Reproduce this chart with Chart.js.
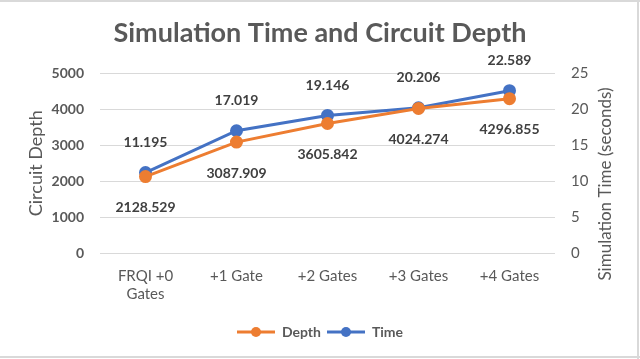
<!DOCTYPE html>
<html>
<head>
<meta charset="utf-8">
<script src="https://cdn.jsdelivr.net/npm/chart.js@4/dist/chart.umd.min.js"></script>
<style>
    html, body { margin: 0; padding: 0; background: #fff; }
    #wrap { width: 640px; height: 359px; }
</style>
</head>
<body>
<div id="wrap"><canvas id="chart" width="640" height="359"></canvas></div>
<script>
// ---- data ----
const categories = [['FRQI +0', 'Gates'], '+1 Gate', '+2 Gates', '+3 Gates', '+4 Gates'];
const depthValues = [2128.529, 3087.909, 3605.842, 4024.274, 4296.855];
const timeValues = [11.195, 17.019, 19.146, 20.206, 22.589];
const depthTicks = [0, 1000, 2000, 3000, 4000, 5000];
const timeTicks = [0, 5, 10, 15, 20, 25];

const ORANGE = '#ED7D31';
const BLUE = '#4472C4';
const TEXT = '#595959';
const FONT = 'Lato, "Open Sans", sans-serif';

// legend marker: short line with a dot in the middle
function legendMarker(color) {
    const c = document.createElement('canvas');
    c.width = 38;
    c.height = 12;
    const g = c.getContext('2d');
    g.strokeStyle = color;
    g.lineWidth = 3;
    g.beginPath();
    g.moveTo(0, 6);
    g.lineTo(38, 6);
    g.stroke();
    g.fillStyle = color;
    g.beginPath();
    g.arc(19, 6, 5, 0, Math.PI * 2);
    g.fill();
    return c;
}

// value labels: depth under its points, time above its points
const valueLabels = {
    id: 'valueLabels',
    afterDatasetsDraw(chart) {
        const ctx = chart.ctx;
        ctx.save();
        ctx.font = 'bold 14px ' + FONT;
        ctx.fillStyle = '#404040';
        ctx.textAlign = 'center';
        ctx.textBaseline = 'middle';
        chart.data.datasets.forEach((ds, i) => {
            const meta = chart.getDatasetMeta(i);
            const dy = ds.yAxisID === 'y' ? 31 : -30;
            meta.data.forEach((pt, j) => {
                ctx.fillText(String(ds.data[j]), pt.x, pt.y + dy);
            });
        });
        ctx.restore();
    }
};

// right axis title reads bottom-to-top, plus the thin frame
const extras = {
    id: 'extras',
    afterDraw(chart) {
        const ctx = chart.ctx;
        ctx.save();
        ctx.font = '17px ' + FONT;
        ctx.fillStyle = TEXT;
        ctx.textAlign = 'center';
        ctx.textBaseline = 'middle';
        ctx.translate(606, 184);
        ctx.rotate(-Math.PI / 2);
        ctx.fillText('Simulation Time (seconds)', 0, 0);
        ctx.restore();

        ctx.save();
        ctx.fillStyle = '#d9d9d9';
        ctx.fillRect(0, 0, 640, 2);
        ctx.fillRect(637, 0, 2, 359);
        ctx.fillRect(0, 356, 640, 2);
        ctx.restore();
    }
};

new Chart(document.getElementById('chart'), {
    type: 'line',
    data: {
        labels: categories,
        datasets: [
            {
                label: 'Depth',
                data: depthValues,
                yAxisID: 'y',
                borderColor: ORANGE,
                backgroundColor: ORANGE,
                borderWidth: 3,
                pointRadius: 5,
                pointStyle: 'circle',
                pointBackgroundColor: ORANGE,
                pointBorderColor: ORANGE,
                tension: 0
            },
            {
                label: 'Time',
                data: timeValues,
                yAxisID: 'y1',
                borderColor: BLUE,
                backgroundColor: BLUE,
                borderWidth: 3,
                pointRadius: 5,
                pointStyle: 'circle',
                pointBackgroundColor: BLUE,
                pointBorderColor: BLUE,
                tension: 0
            }
        ]
    },
    options: {
        responsive: false,
        animation: false,
        layout: { padding: { left: 0, right: 0, top: 0, bottom: 10 } },
        plugins: {
            title: {
                display: true,
                text: 'Simulation Time and Circuit Depth',
                color: TEXT,
                font: { family: FONT, size: 27, weight: 'bold' },
                padding: { top: 17, bottom: 24 }
            },
            legend: {
                position: 'bottom',
                labels: {
                    usePointStyle: true,
                    pointStyleWidth: 38,
                    color: TEXT,
                    font: { family: FONT, size: 14, weight: 'bold' },
                    padding: 6,
                    generateLabels(chart) {
                        return chart.data.datasets.map((ds, i) => ({
                            text: ds.label,
                            fillStyle: ds.borderColor,
                            strokeStyle: ds.borderColor,
                            fontColor: TEXT,
                            pointStyle: legendMarker(ds.borderColor),
                            datasetIndex: i,
                            lineWidth: 0
                        }));
                    }
                }
            },
            tooltip: { enabled: false }
        },
        scales: {
            x: {
                offset: true,
                grid: { display: false },
                border: { display: false },
                ticks: {
                    color: TEXT,
                    font: { family: FONT, size: 15 },
                    padding: 6,
                    maxRotation: 0
                },
                afterFit(scale) { scale.height = 66; }
            },
            y: {
                position: 'left',
                min: 0,
                max: 5000,
                afterBuildTicks(scale) { scale.ticks = depthTicks.map(v => ({ value: v })); },
                grid: { color: '#d9d9d9', lineWidth: 1, drawTicks: false },
                border: { display: false },
                ticks: {
                    color: TEXT,
                    font: { family: FONT, size: 14, weight: 'bold' },
                    padding: 16,
                    callback: v => String(v)
                },
                title: {
                    display: true,
                    text: 'Circuit Depth',
                    color: TEXT,
                    font: { family: FONT, size: 18 },
                    padding: { top: 25 }
                },
                afterFit(scale) { scale.width = 100; }
            },
            y1: {
                position: 'right',
                min: 0,
                max: 25,
                afterBuildTicks(scale) { scale.ticks = timeTicks.map(v => ({ value: v })); },
                grid: { display: false, drawTicks: false },
                border: { display: false },
                ticks: {
                    color: TEXT,
                    font: { family: FONT, size: 15 },
                    padding: 16,
                    callback: v => String(v)
                },
                afterFit(scale) { scale.width = 85; }
            }
        }
    },
    plugins: [valueLabels, extras]
});
</script>
</body>
</html>
